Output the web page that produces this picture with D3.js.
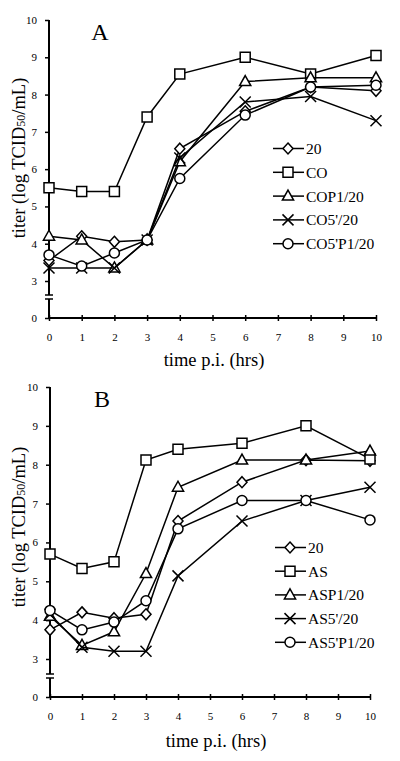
<!DOCTYPE html>
<html>
<head>
<meta charset="utf-8">
<script src="https://cdn.jsdelivr.net/npm/d3@7"></script>
<style>
  html, body { margin: 0; padding: 0; background: #fff; }
  svg { display: block; }
  text { font-family: "Liberation Serif", "Times New Roman", serif; fill: #000; }
</style>
</head>
<body>
<svg id="chart" width="400" height="761"></svg>
<script>
// ---------- DATA ----------
const timePoints = [0, 1, 2, 3, 4, 6, 8, 10];
const xTicks = [0, 1, 2, 3, 4, 5, 6, 7, 8, 9, 10];
const yTicks = [0, 3, 4, 5, 6, 7, 8, 9, 10];

const namesA = ["20", "CO", "COP1/20", "CO5'/20", "CO5'P1/20"];
const a_20      = [3.55, 4.2, 4.05, 4.1, 6.55, 7.55, 8.2, 8.1];
const a_CO      = [5.5, 5.4, 5.4, 7.4, 8.55, 9.0, 8.55, 9.05];
const a_COP1    = [4.2, 4.1, 3.35, 4.1, 6.2, 8.35, 8.45, 8.45];
const a_CO5     = [3.35, 3.35, 3.35, 4.1, 6.3, 7.8, 7.95, 7.3];
const a_CO5P1   = [3.7, 3.4, 3.75, 4.1, 5.75, 7.45, 8.2, 8.25];

const namesB = ["20", "AS", "ASP1/20", "AS5'/20", "AS5'P1/20"];
const b_20      = [3.75, 4.2, 4.05, 4.15, 6.55, 7.55, 8.12, 8.1];
const b_AS      = [5.7, 5.33, 5.5, 8.12, 8.4, 8.55, 9.0, 8.15];
const b_ASP1    = [4.1, 3.35, 3.7, 5.2, 7.42, 8.12, 8.12, 8.35];
const b_AS5     = [4.15, 3.3, 3.2, 3.2, 5.14, 6.55, 7.08, 7.42];
const b_AS5P1   = [4.25, 3.75, 3.95, 4.5, 6.35, 7.08, 7.08, 6.58];

const markerKinds = ["diamond", "square", "triangle", "cross", "circle"];

// ---------- DRAWING ----------
const svg = d3.select("#chart");

const markerPath = {
  square: "M-5,-5H5V5H-5Z",
  diamond: "M0,-5.5L5,0L0,5.5L-5,0Z",
  triangle: "M0,-6L5.6,4L-5.6,4Z",
  cross: "M-5.5,-5.5L5.5,5.5M5.5,-5.5L-5.5,5.5"
};

function drawMarker(g, kind, x, y) {
  if (kind === "circle") {
    g.append("circle").attr("cx", x).attr("cy", y).attr("r", 5)
      .attr("fill", "#fff").attr("stroke", "#000").attr("stroke-width", 1.5);
  } else {
    g.append("path").attr("d", markerPath[kind])
      .attr("transform", `translate(${x},${y})`)
      .attr("fill", kind === "cross" ? "none" : "#fff")
      .attr("stroke", "#000").attr("stroke-width", 1.5);
  }
}

function drawPanel(cfg) {
  const g = svg.append("g");
  const x = d3.scaleLinear().domain([0, 10]).range([cfg.x0, cfg.x1]);
  const y = d3.scaleLinear().domain([0, 3, 10]).range([cfg.yZero, cfg.yThree, cfg.yTen]);

  // Y axis (ticks and labels)
  const yAxis = d3.axisLeft(y).tickValues(yTicks).tickSize(4).tickPadding(8)
    .tickFormat(d3.format("d"));
  const ya = g.append("g").attr("transform", `translate(${cfg.x0},0)`).call(yAxis);
  ya.select(".domain").remove();
  ya.selectAll(".tick line").attr("stroke-width", 1.5);
  ya.selectAll(".tick text").style("font-size", "11px").style("font-family", "Liberation Serif");

  // Y axis line with break
  const bTop = cfg.yZero - 23, bBot = cfg.yZero - 19;
  g.append("line").attr("x1", cfg.x0).attr("x2", cfg.x0)
    .attr("y1", y(10)).attr("y2", bTop).attr("stroke", "#000").attr("stroke-width", 2);
  g.append("line").attr("x1", cfg.x0).attr("x2", cfg.x0)
    .attr("y1", bBot).attr("y2", y(0)).attr("stroke", "#000").attr("stroke-width", 2);
  [bTop, bBot].forEach(v => g.append("line")
    .attr("x1", cfg.x0 - 4).attr("x2", cfg.x0 + 4).attr("y1", v).attr("y2", v)
    .attr("stroke", "#000").attr("stroke-width", 1.5));

  // X axis
  const xAxis = d3.axisBottom(x).tickValues(xTicks).tickSize(3).tickPadding(12.5)
    .tickFormat(d3.format("d"));
  const xa = g.append("g").attr("transform", `translate(0,${y(0)})`).call(xAxis);
  xa.select(".domain").attr("stroke-width", 2).attr("d", `M${cfg.x0},0H${cfg.x1}`);
  xa.selectAll(".tick line").attr("y1", -3).attr("y2", 3).attr("stroke-width", 1.5);
  xa.selectAll(".tick text").style("font-size", "11px").style("font-family", "Liberation Serif");

  // Titles
  g.append("text").attr("x", cfg.xTitleX).attr("y", cfg.xTitleY)
    .attr("text-anchor", "middle").style("font-size", "18.5px").text("time p.i. (hrs)");
  const yt = g.append("text")
    .attr("transform", `translate(${cfg.yTitleX},${cfg.yTitleY}) rotate(-90)`)
    .attr("text-anchor", "middle").style("font-size", "18.5px");
  yt.append("tspan").text("titer (log TCID");
  yt.append("tspan").style("font-size", "12px").text("50");
  yt.append("tspan").text("/mL)");

  g.append("text").attr("x", cfg.letterX).attr("y", cfg.letterY)
    .attr("text-anchor", "middle").style("font-size", "24px").text(cfg.letter);

  // Series
  const line = d3.line().x(d => x(d[0])).y(d => y(d[1]));
  cfg.series.forEach((vals, i) => {
    const pts = timePoints.map((t, j) => [t, vals[j]]);
    const sg = g.append("g");
    sg.append("path").attr("d", line(pts)).attr("fill", "none")
      .attr("stroke", "#000").attr("stroke-width", 1.5);
    pts.forEach(p => drawMarker(sg, markerKinds[i], x(p[0]), y(p[1])));
  });

  // Legend
  cfg.names.forEach((name, i) => {
    const ly = cfg.legY + i * cfg.legStep;
    const lg = g.append("g");
    lg.append("line").attr("x1", cfg.legX).attr("x2", cfg.legX + 31)
      .attr("y1", ly).attr("y2", ly).attr("stroke", "#000").attr("stroke-width", 1.5);
    drawMarker(lg, markerKinds[i], cfg.legX + 15, ly);
    lg.append("text").attr("x", cfg.legX + 33).attr("y", ly).attr("dy", "0.35em")
      .style("font-size", "15.5px").text(name);
  });
}

drawPanel({
  letter: "A", letterX: 100, letterY: 40,
  x0: 49, x1: 376, yZero: 318, yThree: 281, yTen: 20,
  xTitleX: 214, xTitleY: 366, yTitleX: 25, yTitleY: 158,
  legX: 273, legY: 148.5, legStep: 23.8,
  names: namesA,
  series: [a_20, a_CO, a_COP1, a_CO5, a_CO5P1]
});

drawPanel({
  letter: "B", letterX: 102, letterY: 407,
  x0: 50, x1: 370, yZero: 697, yThree: 659, yTen: 387,
  xTitleX: 216, xTitleY: 747, yTitleX: 25, yTitleY: 527,
  legX: 275, legY: 547.5, legStep: 23.7,
  names: namesB,
  series: [b_20, b_AS, b_ASP1, b_AS5, b_AS5P1]
});
</script>
</body>
</html>
